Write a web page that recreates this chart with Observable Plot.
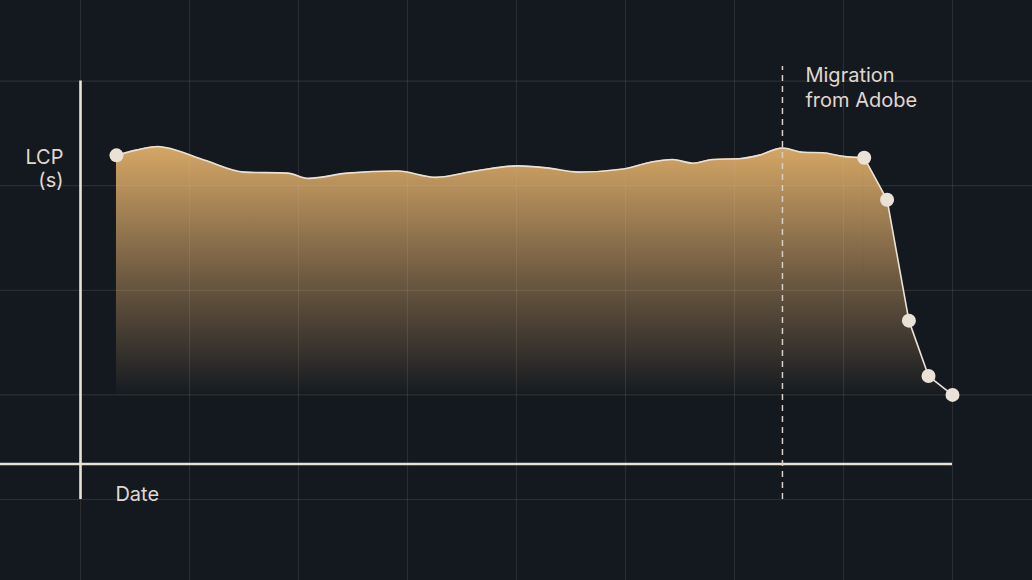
<!DOCTYPE html>
<html>
<head>
<meta charset="utf-8">
<script src="https://cdn.jsdelivr.net/npm/d3@7"></script>
<script src="https://cdn.jsdelivr.net/npm/@observablehq/plot@0.6"></script>
<style>
  html, body { margin: 0; padding: 0; background: #141920; }
  #chart svg { display: block; }
</style>
</head>
<body>
<div id="chart"></div>
<script>
// Time position (in grid units along the Date axis) and LCP value (in grid units)
const dates = [0.33, 0.51, 0.71, 0.78, 1.15, 1.50, 1.90, 2.09, 2.45, 2.91, 3.26, 3.62, 4.01, 4.28, 4.57, 4.98, 5.23, 5.43, 5.62, 5.80, 6.06, 6.22, 6.44, 6.63, 6.81, 7.00, 7.19, 7.40, 7.60, 7.78, 8.00];
const lcp   = [3.29, 3.34, 3.375, 3.365, 3.24, 3.13, 3.12, 3.07, 3.12, 3.14, 3.08, 3.14, 3.19, 3.17, 3.13, 3.16, 3.225, 3.25, 3.215, 3.25, 3.26, 3.29, 3.36, 3.32, 3.315, 3.28, 3.267, 2.865, 1.71, 1.18, 1.0];
const markerIdx = [0, 26, 27, 28, 29, 30];   // points drawn with a dot
const dropStart = 26;                         // first point of the post-migration drop
const baseline = 1.0;                         // area floor
const migrationDate = 6.44;
const gridX = [0, 1, 2, 3, 4, 5, 6, 7, 8];
const gridY = [0, 1, 2, 3, 4];
const axisY = 0.34;                           // level of the Date axis line
const labels = { y: "LCP\n(s)", x: "Date", event: "Migration\nfrom Adobe" };

const data = dates.map((d, i) => ({ x: d, y: lcp[i] }));
const smooth = data.slice(0, dropStart + 1);
const drop = data.slice(dropStart);
const markers = markerIdx.map(i => data[i]);

const cream = "#ebe2d7";
const textColor = "#e0d8cd";
const font = "Inter, 'Noto Sans', sans-serif";

const plot = Plot.plot({
  width: 1032,
  height: 580,
  margin: 0,
  style: { background: "#141920", fontFamily: font },
  x: { domain: [-80 / 109, (1032 - 80) / 109], axis: null },
  y: { domain: [-(580 - 499) / 104.6, 499 / 104.6], axis: null },
  marks: [
    Plot.areaY(smooth, { x: "x", y1: baseline, y2: "y", curve: "monotone-x", fill: "url(#lcpGrad)" }),
    Plot.areaY(drop, { x: "x", y1: baseline, y2: "y", curve: "linear", fill: "url(#lcpGrad)", stroke: "url(#lcpGrad)", strokeWidth: 1.2 }),
    Plot.ruleX(gridX, { stroke: "#d9c9b0", strokeOpacity: 0.12, strokeWidth: 1.2 }),
    Plot.ruleY(gridY, { stroke: "#d9c9b0", strokeOpacity: 0.12, strokeWidth: 1.2 }),
    Plot.ruleX([0], { y1: 0, y2: 4, stroke: cream, strokeWidth: 2.6 }),
    Plot.ruleY([axisY], { x1: -80 / 109, x2: 8, stroke: cream, strokeWidth: 2.6 }),
    Plot.ruleX([migrationDate], { y1: 0, y2: 4.14, stroke: "#d8d0c6", strokeWidth: 1.5, strokeDasharray: "6,5" }),
    Plot.line(smooth, { x: "x", y: "y", curve: "monotone-x", stroke: cream, strokeWidth: 1.6 }),
    Plot.line(drop, { x: "x", y: "y", curve: "linear", stroke: cream, strokeWidth: 1.6 }),
    Plot.dot(markers, { x: "x", y: "y", r: 7, fill: cream, stroke: "none" }),
    Plot.text([labels.y], { x: 0, y: 2.99, dx: -17, text: d => d, textAnchor: "end", lineAnchor: "bottom", fontSize: 20, lineHeight: 1.15, fill: textColor }),
    Plot.text([labels.x], { x: 0.32, y: -0.01, text: d => d, textAnchor: "start", lineAnchor: "bottom", fontSize: 20, fill: textColor }),
    Plot.text([labels.event], { x: migrationDate, y: 3.757, dx: 23, text: d => d, textAnchor: "start", lineAnchor: "bottom", fontSize: 20, lineHeight: 1.22, fill: textColor })
  ]
});

// opaque gradient for the area (pre-blended with the background), positioned via the y scale
const yScale = plot.scale("y");
const gradTop = yScale.apply(d3.max(lcp));
const gradBottom = yScale.apply(baseline);
const svgSel = d3.select(plot);
const defs = svgSel.insert("defs", ":first-child");
const grad = defs.append("linearGradient")
  .attr("id", "lcpGrad")
  .attr("gradientUnits", "userSpaceOnUse")
  .attr("x1", 0).attr("x2", 0)
  .attr("y1", gradTop).attr("y2", gradBottom);
grad.append("stop").attr("offset", "0%").attr("stop-color", "#d6a766");
grad.append("stop").attr("offset", "55%").attr("stop-color", "#6a5740");
grad.append("stop").attr("offset", "100%").attr("stop-color", "#161b21");

document.getElementById("chart").appendChild(plot);
</script>
</body>
</html>
